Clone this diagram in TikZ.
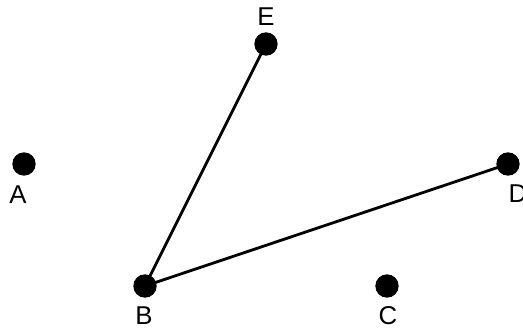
\documentclass[tikz,border=0pt]{standalone}
\usepackage{fontspec}
\setmainfont{Liberation Sans}
\usetikzlibrary{positioning}

\begin{document}
\begin{tikzpicture}[
  x=0.03cm,y=-0.03cm,
  punkt/.style={circle,fill=black,draw=none,minimum size=0.7cm,inner sep=0pt},
  etykieta/.style={font=\fontsize{22}{22}\selectfont,inner sep=0pt},
  odcinek/.style={line width=2.4pt,black}
]
\useasboundingbox (0,0) rectangle (523,329);
\node[punkt] (A) at (24,164)  {};
\node[punkt] (B) at (145,286) {};
\node[punkt] (C) at (387,286) {};
\node[punkt] (D) at (508,164) {};
\node[punkt] (E) at (266,44)  {};
\node[etykieta] (lA) at (18,195)  {A};
\node[etykieta] (lB) at (144,316) {B};
\node[etykieta] (lC) at (388,316) {C};
\node[etykieta] (lD) at (518,194) {D};
\node[etykieta] (lE) at (266,17)  {E};
\draw[odcinek] (B.center) -- (E.center);
\draw[odcinek] (B.center) -- (D.center);
\end{tikzpicture}
\end{document}
